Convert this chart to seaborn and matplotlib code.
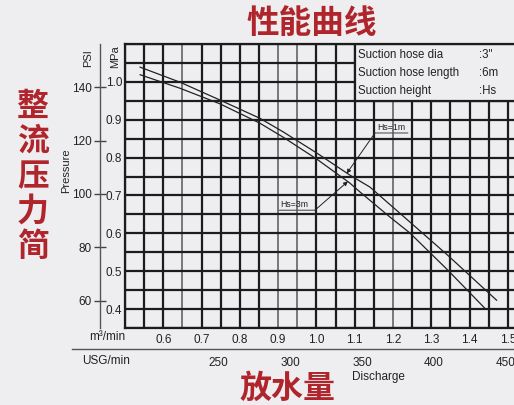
import numpy as np
import pandas as pd
import matplotlib
matplotlib.use("Agg")
import matplotlib.pyplot as plt
import seaborn as sns
from matplotlib.patches import Rectangle

# ---------------- data ----------------
q_hs1 = [0.539, 0.644, 0.748, 0.852, 0.913, 1.001, 1.087, 1.140, 1.244, 1.343, 1.471]
p_hs1 = [1.039, 0.999, 0.952, 0.904, 0.868, 0.812, 0.754, 0.722, 0.630, 0.542, 0.423]
q_hs3 = [0.539, 0.644, 0.748, 0.852, 0.913, 1.001, 1.087, 1.114, 1.192, 1.244, 1.343, 1.440]
p_hs3 = [1.019, 0.983, 0.942, 0.891, 0.854, 0.796, 0.733, 0.709, 0.643, 0.601, 0.503, 0.402]

m3_ticks = [0.6, 0.7, 0.8, 0.9, 1.0, 1.1, 1.2, 1.3, 1.4, 1.5]
mpa_ticks = [0.4, 0.5, 0.6, 0.7, 0.8, 0.9, 1.0]
psi_ticks = [60, 80, 100, 120, 140]
usg_ticks = [200, 250, 300, 350, 400, 450]
usg_labels = ["", "250", "300", "350", "400", "450"]
legend_names = ["Suction hose dia", "Suction hose length", "Suction height"]
legend_values = [':3"', ":6m", ":Hs"]
side_title = ["整", "流", "压", "力", "简"]
grey_grid_x = [0.65, 0.9, 0.95, 1.2]

df = pd.concat([
    pd.DataFrame({"q": q_hs1, "p": p_hs1, "curve": "Hs=1m"}),
    pd.DataFrame({"q": q_hs3, "p": p_hs3, "curve": "Hs=3m"}),
])

# ---------------- style ----------------
sns.set_style("white")
plt.rcParams["font.family"] = ["Liberation Sans", "DejaVu Sans"]
BG = "#eeeef0"
INK = "#1c1c1c"
RED = "#b0252b"
CJK = ["Noto Sans CJK SC", "DejaVu Sans"]

W, H = 514, 405
fig = plt.figure(figsize=(W / 100, H / 100), dpi=100, facecolor=BG)


def fx(px):
    return px / W


def fy(py):
    return 1 - py / H


ax = fig.add_axes([fx(125), fy(328), 402 / W, 284 / H])
ax.set_facecolor(BG)
ax.set_xlim(0.5, 1.55)
ax.set_ylim(0.35, 1.1)

grid_x = np.round(np.arange(0.5, 1.5501, 0.05), 2)
grid_y = np.round(np.arange(0.35, 1.1001, 0.05), 2)
ax.set_xticks(grid_x)
ax.set_xticklabels([f"{v:.1f}" if any(abs(v - t) < 1e-6 for t in m3_ticks) else "" for v in grid_x])
ax.set_yticks(grid_y)
ax.set_yticklabels([f"{v:.1f}" if any(abs(v - t) < 1e-6 for t in mpa_ticks) else "" for v in grid_y])
ax.tick_params(axis="both", length=0, labelsize=8.5, colors="#222")
ax.tick_params(axis="x", pad=4)
ax.tick_params(axis="y", pad=2)
ax.set_axisbelow(True)
ax.grid(True, color=INK, lw=1.6)
for v, gl in zip(grid_x, ax.get_xgridlines()):
    if any(abs(v - g) < 1e-6 for g in grey_grid_x):
        gl.set_color("#6e6e70")
        gl.set_linewidth(1.3)
for s in ax.spines.values():
    s.set_color(INK)
    s.set_linewidth(1.6)

sns.lineplot(data=df, x="q", y="p", hue="curve", palette={"Hs=1m": "#222", "Hs=3m": "#222"},
             legend=False, sort=False, estimator=None, lw=0.9, ax=ax, zorder=4)
ax.set_xlabel("")
ax.set_ylabel("")

# legend box covering the grid
ax.add_patch(Rectangle((1.1, 0.95), 0.6, 0.15, facecolor=BG, edgecolor=INK, lw=1.6, zorder=2.2))
for i, (n, v) in enumerate(zip(legend_names, legend_values)):
    y = 1.071 - i * 0.0475
    ax.text(1.108, y, n, fontsize=8.3, va="center", ha="left", color="#222", zorder=3)
    ax.text(1.425, y, v, fontsize=8.3, va="center", ha="left", color="#222", zorder=3)

# annotations
ax.annotate("", xy=(1.079, 0.758), xytext=(1.153, 0.865),
            arrowprops=dict(arrowstyle="-|>", lw=0.7, color="#222", mutation_scale=6, shrinkA=0, shrinkB=0), zorder=5)
ax.annotate("", xy=(1.239, 0.865), xytext=(1.153, 0.865),
            arrowprops=dict(arrowstyle="-", lw=0.8, color="#555", shrinkA=0, shrinkB=0), zorder=5)
ax.text(1.158, 0.868, "Hs=1m", fontsize=6.3, va="bottom", ha="left", color="#222", zorder=5)

ax.annotate("", xy=(1.082, 0.737), xytext=(0.996, 0.661),
            arrowprops=dict(arrowstyle="-|>", lw=0.7, color="#222", mutation_scale=6, shrinkA=0, shrinkB=0), zorder=5)
ax.annotate("", xy=(0.902, 0.661), xytext=(0.996, 0.661),
            arrowprops=dict(arrowstyle="-", lw=0.8, color="#555", shrinkA=0, shrinkB=0), zorder=5)
ax.text(0.905, 0.664, "Hs=3m", fontsize=6.3, va="bottom", ha="left", color="#222", zorder=5)

# PSI axis
K = 142.0
sec = ax.secondary_yaxis(-25 / 402, functions=(lambda m: m * K, lambda p: p / K))
sec.set_yticks(psi_ticks)
sec.tick_params(direction="inout", length=8, width=1, color="#444", labelsize=8.5, pad=2, labelcolor="#222")
sec.spines["left"].set_color("#555")
sec.spines["left"].set_linewidth(1)

# USG axis
def usg_at(px):
    return 250 + (px - 218) / 1.44


axu = fig.add_axes([fx(72), fy(349), (527 - 72) / W, 0.0001])
axu.patch.set_visible(False)
axu.set_xlim(usg_at(72), usg_at(527))
axu.set_yticks([])
axu.set_xticks(usg_ticks)
axu.set_xticklabels(usg_labels)
for k in ["top", "left", "right"]:
    axu.spines[k].set_visible(False)
axu.spines["bottom"].set_color("#555")
axu.spines["bottom"].set_linewidth(1)
axu.tick_params(axis="x", direction="inout", length=8, width=1, color="#444", labelsize=8.5, pad=2, labelcolor="#222")

# text labels
fig.text(fx(115), fy(57), "MPa", rotation=90, fontsize=8, ha="center", va="center", color="#222")
fig.text(fx(88), fy(58), "PSI", rotation=90, fontsize=8, ha="center", va="center", color="#222")
fig.text(fx(66), fy(171), "Pressure", rotation=90, fontsize=8, ha="center", va="center", color="#222")
fig.text(fx(125), fy(337), "m³/min", fontsize=8.5, ha="right", va="center", color="#222")
fig.text(fx(106), fy(361), "USG/min", fontsize=8.5, ha="center", va="center", color="#222")
fig.text(fx(378), fy(377), "Discharge", fontsize=8.5, ha="center", va="center", color="#222")

fig.text(fx(312), fy(24), "性能曲线", fontsize=23.5, fontweight="bold", family=CJK, color=RED, ha="center", va="center")
fig.text(fx(288), fy(389), "放水量", fontsize=23, fontweight="bold", family=CJK, color=RED, ha="center", va="center")
for i, ch in enumerate(side_title):
    fig.text(fx(33), fy(107 + i * 35), ch, fontsize=23, fontweight="bold", family=CJK, color=RED, ha="center", va="center")

fig.savefig("out.png", dpi=100, facecolor=BG)
